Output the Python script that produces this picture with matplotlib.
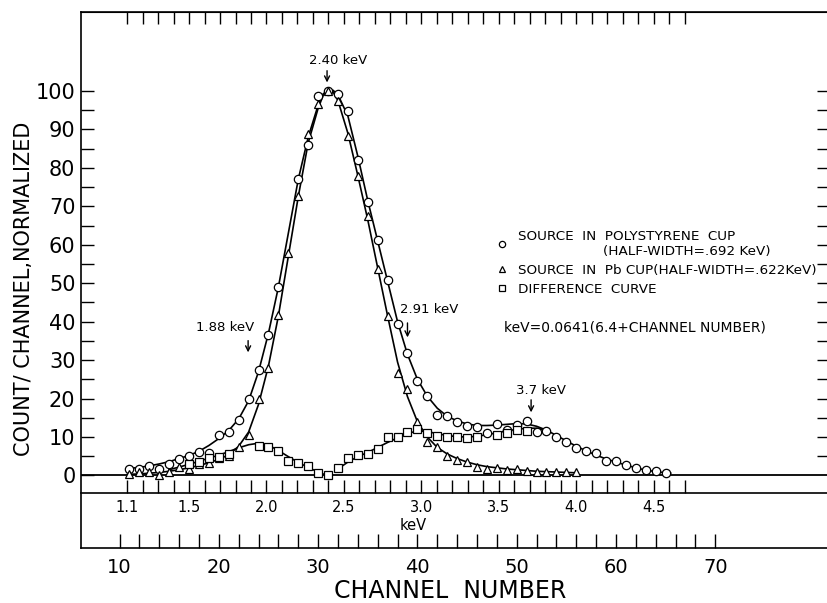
import matplotlib.pyplot as plt
import numpy as np

plt.rcParams['font.family'] = 'DejaVu Sans'

# source in polystyrene cup (circles)
poly_ch = [11, 12, 13, 14, 15, 16, 17, 18, 19, 20, 21, 22, 23, 24, 25, 26,
           28, 29, 30, 31, 32, 33, 34, 35, 36, 37, 38, 39, 40, 41, 42, 43,
           44, 45, 46, 47, 48, 49, 50, 51, 52, 53, 54, 55, 56, 57, 58, 59,
           60, 61, 62, 63, 64, 65]
poly_val = [1.7, 1.8, 2.4, 1.6, 3.1, 4.3, 5.1, 6.2, 5.8, 10.5, 11.4, 14.5, 19.8, 27.5, 36.5, 49.0,
            77.0, 86.0, 98.6, 100.0, 99.3, 94.8, 82.1, 71.1, 61.2, 50.8, 39.3, 31.9, 24.7, 20.8, 15.7, 15.5,
            14.0, 13.0, 12.7, 11.1, 13.3, 11.8, 13.2, 14.3, 11.2, 11.7, 10.1, 8.8, 7.1, 6.4, 5.9, 3.8,
            3.8, 2.7, 2.0, 1.4, 1.2, 0.7]

# source in Pb cup (triangles)
pb_ch = list(range(11, 57))
pb_val = [0.5, 0.8, 1.0, 0.2, 0.9, 2.2, 1.8, 3.0, 3.3, 4.5, 5.0, 7.5, 10.5, 20.0, 28.0, 41.7,
          57.8, 72.7, 88.7, 96.6, 100.0, 97.3, 88.3, 78.0, 67.4, 53.6, 41.6, 26.7, 22.4, 14.0, 8.8, 7.5,
          5.0, 4.1, 3.4, 2.1, 1.6, 2.0, 1.3, 1.8, 1.1, 1.0, 0.8, 0.8, 0.8, 0.8]

# difference curve (squares)
diff_ch = [17, 18, 19, 20, 21,
           24, 25, 26, 27, 28, 29, 30, 31, 32, 33, 34, 35, 36, 37, 38, 39, 40, 41, 42, 43, 44, 45, 46,
           48, 49, 50, 51]
diff_val = [3.0, 3.6, 4.6, 4.9, 5.6,
            7.6, 7.4, 6.3, 3.8, 3.3, 2.5, 0.6, 0.0, 1.9, 4.5, 5.2, 5.5, 7.0, 9.9, 9.9, 11.4, 12.0, 11.1, 10.3, 10.1, 10.1, 9.8, 10.1,
            10.5, 11.1, 11.8, 11.7]

# hand-drawn smooth curves
poly_fit_ch = [10.8, 12, 13, 14, 15, 16, 17, 18, 19, 20, 21, 22, 23, 24, 25, 26, 27, 28, 29, 30,
               30.5, 31, 31.5,
               32, 33, 34, 35, 36, 37, 38, 39, 40, 41, 42, 43, 44, 45, 46, 47, 48, 49, 50,
               51, 52, 53, 54, 55, 56, 57, 58, 59, 60, 61, 62, 63, 64, 65, 65.5]
poly_fit_val = [1.8, 2.1, 2.5, 3.0, 3.6, 4.4, 5.2, 6.3, 7.8, 9.6, 11.7, 14.7, 19.4, 27.0, 37.0, 49.0, 63.0, 77.0, 88.0, 96.3,
                99.2, 100.3, 100.2,
                99.0, 93.5, 83.0, 71.5, 61.0, 50.5, 40.0, 31.5, 25.0, 20.6, 17.5, 15.4, 14.2, 13.4, 13.0, 13.0, 13.1, 13.3, 13.5,
                13.4, 12.8, 11.8, 10.4, 9.0, 7.6, 6.4, 5.3, 4.3, 3.5, 2.7, 2.0, 1.4, 1.0, 0.7, 0.6]

pb_fit_ch = [10.8, 12, 13, 14, 15, 16, 17, 18, 19, 20, 21, 22, 23, 24, 25, 26, 27, 28, 29, 30,
             30.5, 31, 31.5,
             32, 33, 34, 35, 36, 37, 38, 39, 40, 41, 42, 43, 44, 45, 46, 47, 48, 49, 50,
             51, 52, 53, 54, 55, 56]
pb_fit_val = [0.3, 0.4, 0.6, 0.8, 1.1, 1.5, 2.0, 2.6, 3.3, 4.2, 5.4, 7.6, 11.3, 18.5, 28.5, 41.5, 57.0, 72.5, 86.5, 95.5,
              98.8, 100.2, 99.8,
              97.5, 89.0, 78.0, 66.5, 54.0, 41.5, 29.5, 20.5, 14.0, 10.0, 7.3, 5.6, 4.4, 3.5, 2.8, 2.3, 2.0, 1.7, 1.5,
              1.3, 1.1, 1.0, 0.9, 0.8, 0.7]

diff_fit1_ch = [15, 16, 17, 18, 19, 20, 21, 22, 23, 24, 25, 26, 27, 28, 29, 30, 30.7]
diff_fit1_val = [1.5, 2.2, 2.9, 3.7, 4.5, 5.3, 6.2, 7.2, 8.0, 8.4, 7.9, 6.5, 4.9, 3.4, 2.1, 0.9, 0.2]
diff_fit2_ch = [31.7, 32, 33, 34, 35, 36, 37, 38, 39, 40, 41, 42, 43, 44, 45, 46, 47, 48, 49, 50, 51, 52, 53]
diff_fit2_val = [1.2, 1.7, 3.5, 4.9, 6.0, 7.3, 8.6, 9.8, 10.9, 11.6, 11.4, 10.9, 10.4, 10.1, 10.0, 10.2, 10.6,
                 11.1, 11.6, 12.0, 12.3, 12.3, 11.8]

kev_ticks = [1.1, 1.2, 1.3, 1.4, 1.5, 1.6, 1.7, 1.8, 1.9, 2.0, 2.1, 2.2, 2.3, 2.4, 2.5, 2.6, 2.7, 2.8, 2.9,
             3.0, 3.1, 3.2, 3.3, 3.4, 3.5, 3.6, 3.7, 3.8, 3.9, 4.0, 4.1, 4.2, 4.3, 4.4, 4.5, 4.6, 4.7]
kev_labeled = ['1.1', '1.5', '2.0', '2.5', '3.0', '3.5', '4.0', '4.5']


def ch2kev(ch):
    return 0.0641 * (6.4 + np.asarray(ch))


def kev2ch(kev):
    return np.asarray(kev) / 0.0641 - 6.4


fig = plt.figure(figsize=(8.27, 6.03), dpi=100)
ax = fig.add_axes([81 / 827, 55 / 603, 746 / 827, 536 / 603])
ymin, ymax = -18.86, 120.55
ax.set_xlim(6.12, 81.25)
ax.set_ylim(ymin, ymax)

for side in ['left', 'bottom', 'top']:
    ax.spines[side].set_linewidth(1.2)
ax.spines['right'].set_visible(False)

# channel axis (bottom)
ax.xaxis.set_ticks_position('bottom')
ax.set_xticks(range(10, 71, 10))
ax.set_xticks(range(12, 70, 2), minor=True)
ax.tick_params(axis='x', which='both', direction='in', length=10, width=1, labelsize=14, pad=7)
ax.set_xlabel('CHANNEL  NUMBER', fontsize=17)
ax.xaxis.set_label_coords(0.495, -0.058)

# count axis (left)
ax.yaxis.set_ticks_position('left')
ax.set_yticks(range(0, 101, 10))
ax.set_yticks(range(5, 100, 10), minor=True)
ax.tick_params(axis='y', which='both', direction='in', length=9.5, width=1, labelsize=15, pad=4)
ax.set_ylabel('COUNT/ CHANNEL,NORMALIZED', fontsize=15)
ax.yaxis.set_label_coords(-0.063, 0.483)

# right side ticks
rax = ax.secondary_yaxis('right')
rax.set_ticks(list(range(5, 101, 5)))
rax.tick_params(direction='in', length=7, width=1, labelright=False)
rax.spines['right'].set_visible(False)

# keV axis under the zero line
kev_loc = (-4.5 - ymin) / (ymax - ymin)
kax = ax.secondary_xaxis(kev_loc, functions=(ch2kev, kev2ch))
kax.set_ticks(kev_ticks, labels=[f'{k:.1f}' if f'{k:.1f}' in kev_labeled else '' for k in kev_ticks])
kax.tick_params(direction='in', length=9.4, width=1, labelsize=10.5, pad=5)
kax.spines['bottom'].set_linewidth(1.2)
ax.text(39.6, -12.9, 'keV', fontsize=10.5, ha='center', va='center')

# keV ticks along the top
tax = ax.secondary_xaxis('top', functions=(ch2kev, kev2ch))
tax.set_ticks(kev_ticks)
tax.tick_params(direction='in', length=8.6, width=1, labeltop=False)

ax.axhline(0, color='black', lw=1.3)

# curves
for cx, cy in [(poly_fit_ch, poly_fit_val), (pb_fit_ch, pb_fit_val),
               (diff_fit1_ch, diff_fit1_val), (diff_fit2_ch, diff_fit2_val)]:
    ax.plot(cx, cy, color='black', lw=1.2, zorder=2)

mk = dict(linestyle='none', mfc='white', mec='black', mew=0.9, zorder=3)
h_poly, = ax.plot(poly_ch, poly_val, marker='o', ms=6, **mk)
h_pb, = ax.plot(pb_ch, pb_val, marker='^', ms=5.5, **mk)
h_diff, = ax.plot(diff_ch, diff_val, marker='s', ms=5.5, **mk)

ax.legend([h_poly, h_pb, h_diff],
          ['SOURCE  IN  POLYSTYRENE  CUP\n                    (HALF-WIDTH=.692 KeV)',
           'SOURCE  IN  Pb CUP(HALF-WIDTH=.622KeV)',
           'DIFFERENCE  CURVE'],
          loc='upper left', bbox_to_anchor=(0.555, 0.594), frameon=False,
          fontsize=9.7, handlelength=1.0, handletextpad=0.7, markerscale=0.75,
          borderpad=0, borderaxespad=0, labelspacing=0.45)

# peak annotations
arrow = dict(arrowstyle='->', lw=1.0, color='black', mutation_scale=9)
peaks = [('2.40 keV', 30.9, 106.0, 101.5, 32.0, 108.0),
         ('1.88 keV', 22.95, 35.8, 31.3, 20.6, 38.4),
         ('2.91 keV', 39.0, 40.4, 35.2, 41.2, 43.3),
         ('3.7 keV', 51.45, 20.4, 15.7, 52.4, 22.2)]
for label, xa, y0, y1, xt, yt in peaks:
    ax.annotate('', xy=(xa, y1), xytext=(xa, y0), arrowprops=arrow)
    ax.text(xt, yt, label, fontsize=9.5, ha='center', va='center')

ax.text(61.9, 38.6, 'keV=0.0641(6.4+CHANNEL NUMBER)', fontsize=10, ha='center', va='center')

fig.savefig('out.png', dpi=100)
